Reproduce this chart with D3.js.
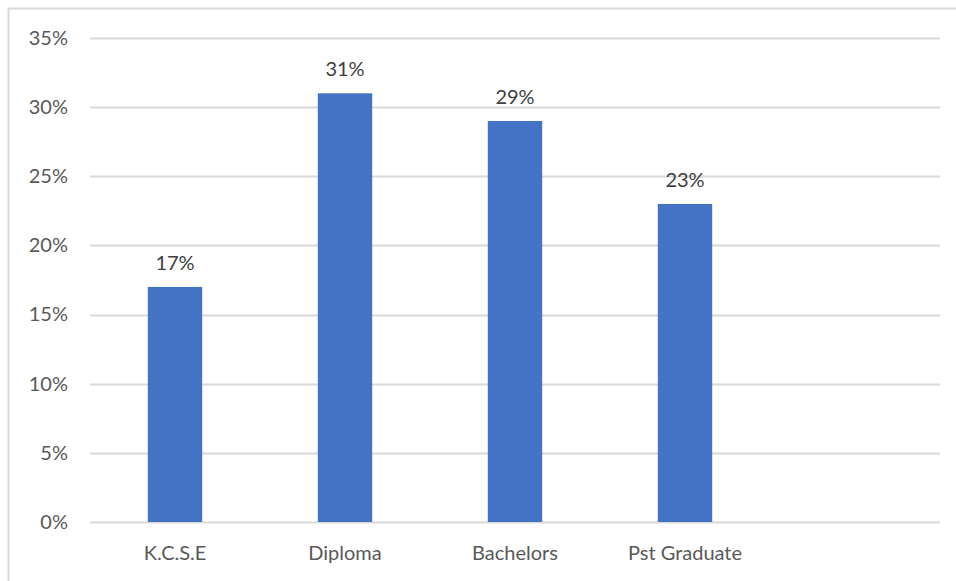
<!DOCTYPE html>
<html>
<head>
<meta charset="utf-8">
<script src="https://cdn.jsdelivr.net/npm/d3@7"></script>
<style>
  body { margin: 0; background: #fff; }
  svg { display: block; }
</style>
</head>
<body>
<div id="chart"></div>
<script>
// donnees
var categories = ["K.C.S.E", "Diploma", "Bachelors", "Pst Graduate", ""];
var values = [17, 31, 29, 23, null];
var yTicks = [0, 5, 10, 15, 20, 25, 30, 35];

var W = 956, H = 581;
var margin = { top: 38, right: 16, bottom: 59, left: 90 };
var width = W - margin.left - margin.right,
    height = H - margin.top - margin.bottom;

var svg = d3.select("#chart").append("svg")
  .attr("width", W)
  .attr("height", H);

// cadre (haut + gauche seulement)
svg.append("path")
  .attr("d", "M8.5," + H + "V8.5H" + W)
  .attr("fill", "none")
  .attr("stroke", "#d9d9d9")
  .attr("stroke-width", 2);

var g = svg.append("g")
  .attr("transform", "translate(" + margin.left + "," + margin.top + ")");

var x = d3.scaleBand()
  .domain(d3.range(categories.length))
  .range([0, width])
  .paddingInner(0.68)
  .paddingOuter(0.34);

var y = d3.scaleLinear()
  .domain([0, 35])
  .range([height, 0]);

var font = "Lato, 'Open Sans', sans-serif";

// grille
g.selectAll(".grid")
  .data(yTicks)
  .enter().append("line")
  .attr("x1", 0).attr("x2", width)
  .attr("y1", function(d) { return Math.round(y(d)) + 0.5; })
  .attr("y2", function(d) { return Math.round(y(d)) + 0.5; })
  .attr("stroke", "#d9d9d9")
  .attr("stroke-width", 2);

// axe y
var yAxis = g.append("g")
  .call(d3.axisLeft(y).tickValues(yTicks).tickSize(0).tickPadding(22)
    .tickFormat(function(d) { return d + "%"; }));
yAxis.select(".domain").remove();
yAxis.selectAll("text")
  .attr("fill", "#595959")
  .style("font-family", font)
  .style("font-size", "20px");

// axe x
var xAxis = g.append("g")
  .attr("transform", "translate(0," + height + ")")
  .call(d3.axisBottom(x).tickSize(0).tickPadding(24)
    .tickFormat(function(i) { return categories[i]; }));
xAxis.select(".domain").remove();
xAxis.selectAll("text")
  .attr("fill", "#595959")
  .style("font-family", font)
  .style("font-size", "20px");

var data = values.map(function(v, i) { return { i: i, v: v }; })
  .filter(function(d) { return d.v != null; });

// barres
g.selectAll(".bar")
  .data(data)
  .enter().append("rect")
  .attr("x", function(d) { return x(d.i); })
  .attr("width", x.bandwidth())
  .attr("y", function(d) { return y(d.v); })
  .attr("height", function(d) { return height - y(d.v); })
  .attr("fill", "#4472c4");

// etiquettes
g.selectAll(".lbl")
  .data(data)
  .enter().append("text")
  .attr("x", function(d) { return x(d.i) + x.bandwidth() / 2; })
  .attr("y", function(d) { return y(d.v) - 17; })
  .attr("text-anchor", "middle")
  .attr("fill", "#404040")
  .style("font-family", font)
  .style("font-size", "20px")
  .text(function(d) { return d.v + "%"; });
</script>
</body>
</html>
